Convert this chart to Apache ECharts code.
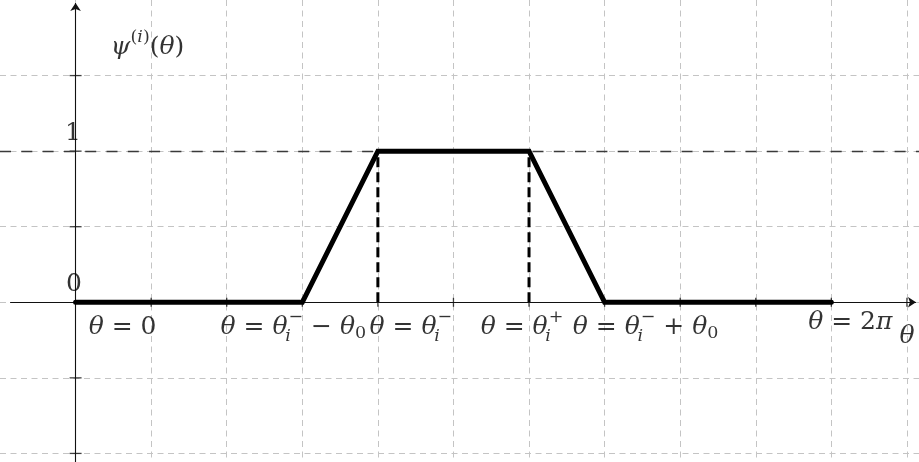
<!DOCTYPE html>
<html>
<head>
<meta charset="utf-8">
<script src="https://cdn.jsdelivr.net/npm/echarts@6/dist/echarts.min.js"></script>
<style>
  html, body { margin: 0; padding: 0; background: #fff; }
  #chart { width: 919px; height: 462px; }
</style>
</head>
<body>
<div id="chart"></div>
<script>
// Trapezoidal window psi^(i)(theta): zero, linear ramp up, plateau at 1, ramp down, zero.
const knotsTheta = [0, 3, 4, 6, 7, 10];
const knotsPsi   = [0, 0, 1, 1, 0, 0];
// Plateau edges theta_i^- and theta_i^+ (dashed drops to the axis)
const dropTheta  = [4, 6];
const levelOne   = 1;

// Axis ticks
const xTickValues = [1, 2, 3, 4, 5, 6, 7, 8, 9, 10, 11];
const yTickValues = [-1, -0.5, 0.5, 1, 1.5];

// Theta annotations under the axis (rich-text markup) and the theta value each belongs to
const thetaMarks  = [0, 3, 4, 6, 7, 10, 11];
const thetaLabels = [
  '{t|θ}{r| = 0}',
  '{t|θ}{r| = }{t|θ}{sb|i}{sp|−}{r| − }{t|θ}{s0|0}',
  '{t|θ}{r| = }{t|θ}{sb|i}{sp|−}',
  '{t|θ}{r| = }{t|θ}{sb|i}{sp|+}',
  '{t|θ}{r| = }{t|θ}{sb|i}{sp|−}{r| + }{t|θ}{s0|0}',
  '{t|θ}{r| = 2}{t|π}',
  '{t|θ}'
];
// Level annotations on the vertical axis
const psiMarks  = [0, 1];
const psiLabels = ['0', '1'];
const psiTitle  = '{t|ψ}{spr|(}{spi|i}{spr|)}{r|(}{t|θ}{r|)}';

// --- layout / styling ---
const SERIF = '"DejaVu Serif", "Liberation Serif", serif';
const BIG = 25, SMALL = 17.5;
const rich = {
  t:   { fontFamily: SERIF, fontStyle: 'italic', fontSize: BIG, color: '#000' },
  r:   { fontFamily: SERIF, fontSize: BIG, color: '#000' },
  sb:  { fontFamily: SERIF, fontStyle: 'italic', fontSize: SMALL, color: '#000', padding: [19, 0, 0, 0], width: 1 },
  sp:  { fontFamily: SERIF, fontSize: SMALL, color: '#000', padding: [0, 0, 19, 0] },
  s0:  { fontFamily: SERIF, fontSize: SMALL, color: '#000', padding: [12, 0, 0, 0] },
  spr: { fontFamily: SERIF, fontSize: SMALL, color: '#000', padding: [0, 0, 20, 0] },
  spi: { fontFamily: SERIF, fontStyle: 'italic', fontSize: SMALL, color: '#000', padding: [0, 0, 20, 0] }
};
// pixel nudges of each theta annotation relative to its axis point
const thetaNudge = [[47, 25], [-9, 25], [33, 25], [-7, 25], [41, 25], [19, 20], [0, 34]];
const psiNudge = [[-1.5, -18], [-2.5, -18]];

const gridLine = { show: true, lineStyle: { color: '#c4c4c4', width: 1, type: [6, 4.5] }, showMinLine: false, showMaxLine: false };

const chart = echarts.init(document.getElementById('chart'));
chart.setOption({
  animation: false,
  backgroundColor: '#fff',
  grid: { left: 0, top: 0, width: 919, height: 529, outerBoundsMode: 'none', containLabel: false },
  xAxis: {
    type: 'value', min: -1, max: 11.16, interval: 1,
    axisLine: { show: false }, axisTick: { show: false }, axisLabel: { show: false },
    splitLine: gridLine
  },
  yAxis: {
    type: 'value', min: -1.5, max: 2, interval: 0.5,
    axisLine: { show: false }, axisTick: { show: false }, axisLabel: { show: false },
    splitLine: gridLine
  },
  series: [
    // axes with arrow heads, the level psi = 1, and tick marks
    {
      type: 'scatter', silent: true, z: 3,
      symbol: 'rect',
      data: xTickValues.map(v => ({ value: [v, 0], symbolSize: [1.3, 9] }))
        .concat(yTickValues.map(v => ({ value: [0, v], symbolSize: [12, 1.3] }))),
      itemStyle: { color: '#111' },
      markLine: {
        silent: true, animation: false,
        label: { show: false },
        symbol: ['none', 'arrow'], symbolSize: 8,
        data: [
          [{ coord: [-0.866, 0] }, { coord: [11.12, 0] }],
          [{ coord: [0, -1.12] }, { coord: [0, 1.98] }],
          [{ coord: [-1, levelOne], symbol: 'none' }, { coord: [11.16, levelOne], symbol: 'none',
            lineStyle: { color: '#3a3a3a', width: 1.3, type: [11, 10.3] } }]
        ],
        lineStyle: { color: '#111', width: 1.1, type: 'solid' }
      }
    },
    // psi^(i)(theta)
    {
      type: 'line', z: 5, silent: true,
      data: knotsTheta.map((x, i) => [x, knotsPsi[i]]),
      symbol: 'none',
      lineStyle: { color: '#000', width: 5, cap: 'round', join: 'miter' }
    },
    // dashed drops at the plateau edges
    ...dropTheta.map(x => ({
      type: 'line', z: 4, silent: true, symbol: 'none',
      data: [[x, 0], [x, levelOne]],
      lineStyle: { color: '#000', width: 3, type: [10, 5] }
    })),
    // annotations
    {
      type: 'scatter', z: 6, silent: true,
      symbolSize: 1, itemStyle: { color: 'rgba(0,0,0,0)' },
      data: thetaMarks.map((x, i) => ({
        value: [x, 0],
        label: { show: true, position: 'inside', formatter: thetaLabels[i], rich,
                 offset: thetaNudge[i], align: 'center', verticalAlign: 'middle' }
      })).concat(psiMarks.map((y, i) => ({
        value: [0, y],
        label: { show: true, position: 'inside', formatter: psiLabels[i],
                 fontFamily: SERIF, fontSize: BIG, color: '#000', offset: psiNudge[i] }
      }))).concat([{
        value: [0, 1.5],
        label: { show: true, position: 'inside', formatter: psiTitle, rich, offset: [72, -28] }
      }])
    }
  ]
});
</script>
</body>
</html>
